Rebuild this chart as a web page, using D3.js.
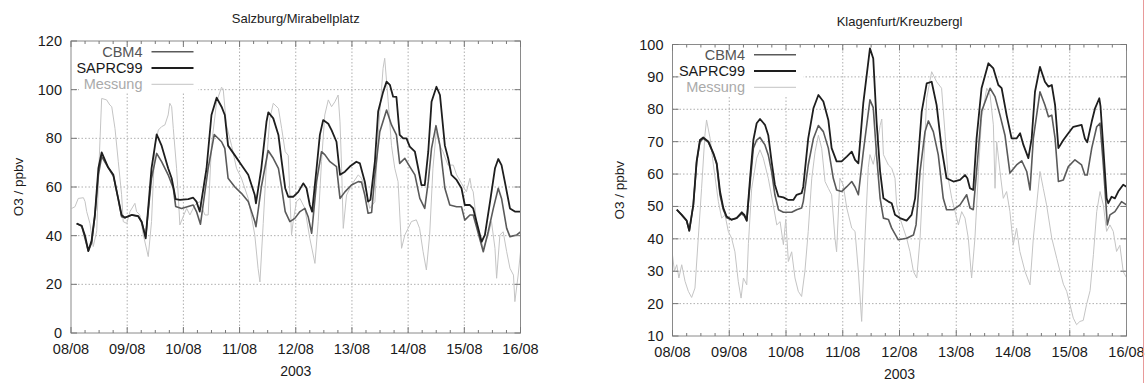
<!DOCTYPE html>
<html><head><meta charset="utf-8">
<script src="https://cdn.jsdelivr.net/npm/d3@7"></script>
<style>html,body{margin:0;padding:0;background:#fff;}svg{display:block;font-family:"Liberation Sans",Arial,sans-serif;}</style>
</head><body>
<svg id="c" width="1145" height="383"></svg>
<script>
// ---- data: [hour since 08/08 00:00, O3 ppbv] ----
const dayLabels = ["08/08","09/08","10/08","11/08","12/08","13/08","14/08","15/08","16/08"];
const yTicksSalzburg = [0,20,40,60,80,100,120];
const yTicksKlagenfurt = [10,20,30,40,50,60,70,80,90,100];
const seriesNames = ["CBM4","SAPRC99","Messung"];

const sbgSAPRC99 = [[2.4,45],[4.6,44],[6,40],[7.4,33.7],[8.8,38],[10.2,48.5],[11.7,67.7],[13.1,74.2],[15.9,68],[18.1,65],[20.2,55],[21.6,48.5],[23,47.4],[25.9,48.5],[28.7,48],[30.2,45.7],[31.9,38.9],[34.4,67.7],[36.6,81.6],[38.7,77],[41.5,67.7],[43,63.6],[44.7,55],[46.5,54.7],[50.1,55],[52.2,55.6],[53.6,54],[55,49.9],[57.9,67.7],[60,89.6],[62.2,96.7],[64.3,93],[65.7,89.6],[67.1,77],[70,73],[72.8,69],[75.7,65],[78.5,56.7],[79,53.3],[81.3,67.7],[83.5,86.8],[84.3,90.7],[86.4,88.2],[88.6,81.4],[90,70.4],[91.5,59.5],[92.8,56],[95,56],[97.1,58],[99.2,61.5],[100.6,59.5],[102,52.6],[103,49.9],[104.9,67.7],[106.3,81.4],[107.7,87.5],[109.9,86],[111.3,83.4],[113.4,78.6],[114.9,65],[117,66.3],[119.1,68.4],[121.9,70.4],[123.4,69.7],[125.5,62.2],[126.9,54],[127.9,54.7],[129.8,70.4],[131.2,91],[133.3,99],[134.8,103.3],[136.2,102],[137.6,97.1],[139,97],[140.4,81.4],[141.9,80],[143.3,80],[144.7,76.6],[146.9,74.5],[148.3,67.7],[149.7,60.8],[151.1,60.8],[152.6,74.5],[154,95],[156.1,101.2],[157.6,97.8],[159.7,77],[161.1,71.8],[162.5,65],[164.7,62.9],[166.8,59.5],[168.2,52.6],[170.4,52.6],[171.8,51.2],[173.2,45.8],[175.4,37.5],[176.8,40.3],[179,54],[181.1,67.7],[182.5,71.5],[183.9,69],[185.3,62.2],[187.5,51.2],[189.6,49.9],[192,49.9]];
const sbgCBM4 = [[2.4,45],[4.6,44],[7.4,33.7],[8.8,37],[10.2,48],[11.7,65],[13.1,72.5],[15.9,68],[18.1,64.5],[20.2,55],[21.6,47.8],[23,47.4],[25.9,48.5],[28.7,48],[30.2,45.5],[31.9,39.6],[34.4,63.6],[36.6,73.8],[38.7,70.4],[41.5,65],[43.7,59.5],[44.7,52],[47.2,51.2],[52.2,52.6],[53.6,49.9],[55.3,44.7],[58.6,67.7],[61.2,81.6],[64.3,78.6],[65.7,75.9],[67.1,63.6],[70,60],[72.8,57.4],[75.7,54],[78.5,45.8],[79,43.7],[81.3,60],[84.2,75],[86.4,71.8],[88.6,67.7],[90,59.5],[91.5,49.9],[93.5,45.8],[95.6,47.1],[97.8,49.9],[99.9,51.2],[101.3,47.8],[102.8,41],[104.9,62.2],[107,74.5],[108.5,73.2],[110.6,70.4],[113.4,68.4],[114.9,55.3],[117,58],[119.8,60.8],[122.7,62.2],[124.1,62],[125.5,56.7],[126.9,49.2],[128.4,49.5],[129.8,65],[131.9,82.7],[134.8,91.6],[136.9,85.5],[139,81.4],[140.4,69.7],[142.6,71.8],[144.7,68.4],[146.9,65],[149,55.3],[151.1,51.2],[152.6,62.2],[154,75.9],[155.9,85.2],[157.6,77],[159.7,59.5],[161.8,52.6],[164.7,51.9],[166.8,51.9],[168.2,46.4],[170.4,48.5],[171.8,48.5],[173.2,43.7],[176.1,33.4],[178.2,41.6],[180.4,51.2],[182.5,59.5],[183.9,55.3],[186.1,43],[187.5,39.6],[190.4,40.3],[192,41.6]];
const sbgMessung = [[0.3,51.2],[1.7,51.9],[3.1,55.3],[5.3,55.6],[6,54],[6.7,49.9],[8.1,45],[9.5,35.5],[11,42],[12,70],[13.1,96.4],[15.2,95.8],[16.6,93.7],[17.4,93],[18.8,84],[20.2,70.4],[21.6,57],[22.3,45.8],[23.8,45],[25.2,49.9],[27.3,53.3],[28,49.9],[29.4,48.5],[30.9,40.3],[33,31.4],[34.4,45.8],[35.8,77],[37.3,83.4],[38.7,84.8],[40.1,85.5],[41.5,89.6],[42.2,94.4],[43,93],[43.7,84],[45.1,67.7],[45.8,56.7],[46.5,44.4],[47.9,47.8],[49.4,51.2],[50.8,48.5],[52.9,52.6],[55,54],[57.2,48.5],[58.6,48.5],[60,77],[62.2,95],[64.3,101],[65,100.3],[66.4,85.5],[68.6,77],[70.7,67.7],[72.8,63.6],[75.7,55.3],[78.5,40.3],[79.9,26.6],[80.7,21],[82.1,45],[83.5,70],[84.9,88],[86.4,94.4],[88.6,92.3],[90,84],[91.5,74.5],[92.8,73],[94.2,40.3],[94.9,45.8],[96.3,54],[97.8,55.3],[99.9,51.2],[102,38.9],[104.2,28.6],[105.6,45.8],[107,70.4],[108.4,89.6],[109.9,95.8],[111.3,93],[112.7,95],[114.1,97.8],[114.9,86.8],[115.6,67.7],[116.3,43],[117.7,56.7],[119.8,60.8],[122.7,65],[124.1,63.6],[126.2,58],[127.6,51.2],[129.8,54],[131.2,81.4],[133.3,108.8],[134,112.9],[135.5,95],[136.9,77],[138.3,67.7],[139.7,62.2],[141.2,34.8],[142.6,40.3],[144,43],[145.4,45.8],[147.5,46.5],[148.9,43],[150.4,33.4],[151.8,25.9],[153.2,40.3],[154.6,67.7],[156,82.7],[157.5,77],[158.9,74.5],[161,69],[163.3,69],[164.7,65],[166.8,61.5],[168.9,58],[170.4,63.6],[171.1,59.5],[171.8,58],[173.2,45.8],[174.6,40.3],[176.1,34.8],[178.2,40.3],[179.6,45.8],[181.1,34.8],[181.8,22.5],[183.2,40.3],[184.6,41.6],[186.1,33.4],[187.5,26.6],[189,23.8],[189.6,12.9],[191,23.8],[192,33.4]];

const klgSAPRC99 = [[1.8,49],[3.9,47.4],[6,45.6],[7.1,42.5],[8.8,50.5],[10.2,63.9],[11.6,70.5],[13,71.3],[15.2,70],[17.3,66.4],[18.7,63.3],[20.1,54.6],[21.5,49.5],[22.9,46.9],[25,45.9],[27.1,46.4],[29.3,48.2],[30.4,47.4],[31.4,45.6],[32.8,58.7],[34.2,70.5],[35.6,75.7],[37,77],[39.1,75.2],[40.5,72],[41.9,63.9],[43.3,56.7],[44.8,53.1],[46.9,52.8],[49,52],[51.1,52],[52.5,53.6],[54.6,54.1],[55.3,56.1],[57.4,71],[59.6,80.3],[61.7,84.4],[63.8,82.4],[65.9,76.7],[67.3,68],[69.4,63.9],[71.5,63.9],[73.7,65.4],[75.8,66.9],[77.2,64.4],[78.6,63.3],[80.7,82],[83.5,98.8],[84.9,95.7],[86.3,76.2],[87.8,60.8],[89.2,52.5],[91.3,51.5],[92.7,51],[94.1,47.4],[96.2,46.4],[99,45.6],[101.1,47.4],[102.6,52.5],[104,65.9],[105.4,79.3],[107.5,88],[109.6,88.5],[111.7,81.3],[113.8,68],[115.9,58.7],[118.8,57.7],[121.6,58.2],[123.7,59.7],[124.7,58.7],[125.8,55.6],[127.2,55.1],[128.6,71],[130.7,86.5],[133.6,94.2],[135.7,92.6],[137.8,87.5],[139.2,86.5],[141.3,78.2],[143.4,71],[145.5,71],[147,72.6],[148.4,69],[150.5,64.9],[151.9,71],[153.3,85.4],[155.4,93.1],[157.5,88.5],[159,87],[160.4,87.5],[161.8,81.3],[163.2,68],[165.3,70.5],[167.4,72.6],[169.5,74.6],[173,75.2],[174.4,71],[175.4,69.8],[177.3,76.2],[178.7,80.3],[180.5,83.4],[181,81],[182.2,68],[183.6,52.5],[184.3,51],[185.7,53],[187.1,52.5],[188.5,54.6],[190.6,56.7],[192,56.1]];
const klgCBM4 = [[1.8,49],[3.9,47.4],[6,45.6],[7.1,42.5],[8.8,50.5],[10.2,63.5],[11.6,70],[13,71],[15.2,69.8],[17.3,66.2],[18.7,63],[20.1,53.5],[21.5,49],[22.9,46.5],[25,45.9],[27.1,46.4],[29.3,47.8],[30.4,47],[31.4,45.6],[32.8,57],[34.2,68],[35.6,70.5],[37,71.3],[39.1,69],[40.5,65.9],[41.9,60.8],[43.3,53.6],[44.8,49],[46.9,48.2],[50.4,48.2],[52.5,49],[54.6,49.5],[55.3,51.5],[57.4,62.8],[59.6,71],[61.7,75],[63.8,73.1],[65.9,68],[68,58.7],[69.4,55.1],[71.5,54.6],[73.7,56.1],[75.8,57.7],[77.2,56],[78.6,53.6],[80.7,66.9],[83.5,82.9],[84.9,80.5],[86.3,65.9],[87.8,52.5],[89.2,46.4],[91.3,46],[92.7,43.3],[95.5,39.7],[99,40.2],[101.9,41.2],[103,44.3],[104.7,60.8],[106.8,73.1],[108.2,76.4],[110.3,73.1],[112.4,65.9],[114.5,52.5],[115.9,49],[118.8,49],[121.6,50.5],[124.4,53.6],[125.8,49.5],[127.2,49],[128.6,60.8],[130.7,79.3],[134.3,86.5],[136.4,83.9],[138.5,78.2],[140.6,72],[142.7,60.3],[145.5,62.8],[147.7,64.1],[149.8,60.8],[151.2,55.1],[152.6,71],[155.4,85.4],[157.5,81.3],[159,77.7],[160.4,78.2],[161.8,71],[163.2,57.7],[165.3,58.2],[167.4,62.3],[170.2,64.4],[173,62.8],[174.4,59.7],[175.4,59.7],[177.3,68],[179.4,74.6],[180.8,75.7],[182.2,62.8],[183.9,44.3],[185,47.4],[187.1,48.4],[189.9,51.5],[192,50.5]];
const klgMessung = [[0,35],[0.8,30],[1.8,32],[2.7,27.9],[3.9,32],[5.3,26.9],[6.7,23.8],[8.1,21.9],[9.5,24.8],[10.9,40.2],[12.3,55.6],[13.7,72],[14.4,76.7],[15.9,71],[17.3,62.8],[19.4,51.5],[20.8,46.4],[22.2,47.4],[23.6,42.3],[25,40.2],[26.4,36],[27.8,26.9],[29,21.7],[30,27.9],[31.4,25.8],[32.1,38.5],[33.5,55.6],[35.6,64.9],[37,67.5],[38.4,64.9],[40.5,58.7],[42.6,50.5],[44.1,44.3],[45.5,45.3],[46.9,38.2],[47.9,46],[49,33],[50.4,36],[51.8,27.9],[53.2,23.8],[54.6,22.2],[56,30],[57.4,42.3],[58.9,58.7],[60.3,66.9],[61.7,72],[63.1,67.9],[64.5,57.7],[65.9,55.6],[67.3,53.6],[68.7,40.2],[69.4,36],[70.8,58.7],[72.2,56.6],[73.7,49.5],[75.8,43.3],[77.2,42.3],[78.6,30],[80,14.5],[81.4,40.2],[82.8,62],[83.5,66],[84.9,63],[86.3,68],[87.8,75],[88.5,77],[89.2,66],[91.3,62.8],[92.7,61.8],[94.1,58.7],[94.8,50.5],[96.2,46.4],[97.6,43.3],[99,40.2],[100.4,36.1],[101.9,29.9],[103.3,27.9],[104.7,40.2],[106.1,60.8],[107.5,83.4],[109.6,91.6],[111.7,88.5],[113.8,86.5],[115.2,73.1],[116.6,58.7],[118.1,52.5],[119.5,48.4],[120.9,44.3],[122.3,48.4],[123.7,46.4],[125.1,40.2],[126.5,27.9],[127.9,40.2],[129.4,60.8],[130.7,77.2],[132.9,86.5],[134.3,84.4],[135.7,75.2],[136.4,55.6],[137.1,70],[138.5,60.8],[139.9,52.5],[141.3,54.6],[142.7,48.4],[144.1,38.2],[145.5,43.3],[146.9,36.1],[149.1,29.9],[151.2,25.8],[152.6,40.2],[154,50.5],[155.4,60.8],[156.8,55.6],[158.2,50.5],[160.4,40.2],[162.5,34],[163.9,29.9],[165.3,26],[166.7,23.8],[168.1,19.7],[169.5,15.5],[170.9,13.5],[172.3,14.5],[173.7,14.8],[175.1,19.7],[176.6,24],[178,35.1],[179.4,48.4],[180.8,54.6],[182.2,50.5],[183.6,42.3],[185,44.3],[186.4,42.3],[187.8,36.1],[189.2,38],[190.6,29.9],[192,28]];

const svg = d3.select("#c");
const styles = {
  CBM4:{stroke:"#5a5a5a", width:1.6, text:"#555"},
  SAPRC99:{stroke:"#1e1e1e", width:1.8, text:"#1a1a1a"},
  Messung:{stroke:"#c4c4c4", width:1, text:"#aaa"}
};

function panel(cfg){
  const g = svg.append("g");
  const x = d3.scaleLinear().domain([0,192]).range([cfg.x0,cfg.x1]);
  const y = d3.scaleLinear().domain(cfg.yDomain).range([cfg.yBot,cfg.yTop]);
  const dayHours = dayLabels.map((d,i)=>i*24);
  // grid
  g.append("g").selectAll("line").data(cfg.yTicks.slice(1,-1)).join("line")
    .attr("x1",cfg.x0).attr("x2",cfg.x1).attr("y1",d=>y(d)).attr("y2",d=>y(d))
    .attr("stroke","#9a9a9a").attr("stroke-width",0.8).attr("stroke-dasharray","1.5,2");
  g.append("g").selectAll("line").data(dayHours.slice(1,-1)).join("line")
    .attr("x1",d=>x(d)).attr("x2",d=>x(d)).attr("y1",cfg.yTop).attr("y2",cfg.yBot)
    .attr("stroke","#9a9a9a").attr("stroke-width",0.8).attr("stroke-dasharray","1.5,2");
  // legend background
  g.append("rect").attr("x",cfg.x0+8).attr("y",cfg.yTop+4)
    .attr("width",cfg.legBgW-7).attr("height",cfg.legBgH).attr("fill","#fff");
  // lines
  const line = d3.line().x(d=>x(d[0])).y(d=>y(d[1]));
  const clipId = "clip"+cfg.id;
  svg.append("clipPath").attr("id",clipId).append("rect")
    .attr("x",cfg.x0).attr("y",cfg.yTop).attr("width",cfg.x1-cfg.x0).attr("height",cfg.yBot-cfg.yTop);
  const lg = g.append("g").attr("clip-path",`url(#${clipId})`);
  [["Messung",cfg.messung],["CBM4",cfg.cbm4],["SAPRC99",cfg.saprc]].forEach(([n,data])=>{
    lg.append("path").datum(data).attr("d",line).attr("fill","none")
      .attr("stroke",styles[n].stroke).attr("stroke-width",styles[n].width)
      .attr("stroke-linejoin","round");
  });
  // border
  g.append("rect").attr("x",cfg.x0).attr("y",cfg.yTop).attr("width",cfg.x1-cfg.x0)
    .attr("height",cfg.yBot-cfg.yTop).attr("fill","none").attr("stroke","#8a8a8a").attr("stroke-width",1);
  // x ticks (major days, minor 6h)
  const minor = d3.range(0,193,6).filter(h=>h%24!==0);
  const tk = g.append("g").attr("stroke","#777").attr("stroke-width",1);
  dayHours.forEach(h=>{
    tk.append("line").attr("x1",x(h)).attr("x2",x(h)).attr("y1",cfg.yBot).attr("y2",cfg.yBot-6);
    tk.append("line").attr("x1",x(h)).attr("x2",x(h)).attr("y1",cfg.yTop).attr("y2",cfg.yTop+6);
  });
  minor.forEach(h=>{
    tk.append("line").attr("x1",x(h)).attr("x2",x(h)).attr("y1",cfg.yBot).attr("y2",cfg.yBot-3);
    tk.append("line").attr("x1",x(h)).attr("x2",x(h)).attr("y1",cfg.yTop).attr("y2",cfg.yTop+3);
  });
  cfg.yTicks.forEach(v=>{
    tk.append("line").attr("x1",cfg.x0).attr("x2",cfg.x0+6).attr("y1",y(v)).attr("y2",y(v));
    tk.append("line").attr("x1",cfg.x1).attr("x2",cfg.x1-6).attr("y1",y(v)).attr("y2",y(v));
  });
  // tick labels
  g.append("g").selectAll("text").data(dayLabels).join("text")
    .attr("x",(d,i)=>x(i*24)).attr("y",cfg.yBot+21).attr("text-anchor","middle")
    .attr("font-size",14.5).attr("fill","#1a1a1a").text(d=>d);
  g.append("g").selectAll("text").data(cfg.yTicks).join("text")
    .attr("x",cfg.x0-9).attr("y",d=>y(d)+5).attr("text-anchor","end")
    .attr("font-size",14.5).attr("fill","#1a1a1a").text(d=>d);
  // axis titles
  g.append("text").attr("x",(cfg.x0+cfg.x1)/2).attr("y",cfg.yBot+43).attr("text-anchor","middle")
    .attr("font-size",14).attr("fill","#1a1a1a").text("2003");
  g.append("text").attr("transform",`translate(${cfg.yLabX},${(cfg.yTop+cfg.yBot)/2}) rotate(-90)`)
    .attr("text-anchor","middle").attr("dy","0.35em").attr("font-size",13.5).attr("fill","#1a1a1a").text("O3 / ppbv");
  g.append("text").attr("x",(cfg.x0+cfg.x1)/2).attr("y",cfg.titleY).attr("text-anchor","middle")
    .attr("font-size",13).attr("fill","#222").text(cfg.title);
  // legend
  seriesNames.forEach((n,i)=>{
    const yy = cfg.legY + i*16.3;
    g.append("text").attr("x",cfg.legX).attr("y",yy+5).attr("text-anchor","end")
      .attr("font-size",14.5).attr("fill",styles[n].text).text(n);
    g.append("line").attr("x1",cfg.legX+9).attr("x2",cfg.legX+51).attr("y1",yy).attr("y2",yy)
      .attr("stroke",styles[n].stroke).attr("stroke-width",styles[n].width);
  });
}

panel({id:"s", x0:71, x1:520.5, yTop:41, yBot:333, yDomain:[0,120], yTicks:yTicksSalzburg,
  title:"Salzburg/Mirabellplatz", titleY:23, yLabX:18, legX:142.5, legY:51.7, legBgW:126, legBgH:48,
  cbm4:sbgCBM4, saprc:sbgSAPRC99, messung:sbgMessung});
panel({id:"k", x0:672.5, x1:1126.5, yTop:44.5, yBot:336, yDomain:[10,100], yTicks:yTicksKlagenfurt,
  title:"Klagenfurt/Kreuzbergl", titleY:26, yLabX:619, legX:745, legY:54.7, legBgW:130, legBgH:47,
  cbm4:klgCBM4, saprc:klgSAPRC99, messung:klgMessung});

// thin red page edge line
svg.append("line").attr("x1",1143.5).attr("x2",1143.5).attr("y1",0).attr("y2",383)
  .attr("stroke","#e89a9a").attr("stroke-width",1);
</script>
</body></html>
